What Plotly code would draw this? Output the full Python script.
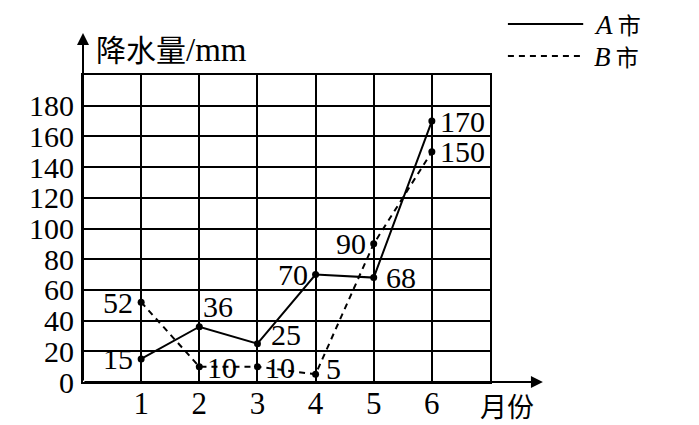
import plotly.graph_objects as go

months = [1, 2, 3, 4, 5, 6]
city_a = [15, 36, 25, 70, 68, 170]
city_b = [52, 10, 10, 5, 90, 150]
y_ticks = [0, 20, 40, 60, 80, 100, 120, 140, 160, 180]

# label placement for each point (anchor side, x shift px, y shift px)
a_pos = [("right", -6, 0), ("left", 2, 20), ("left", 12, 9), ("right", -6, 0), ("left", 10, 0), ("left", 6, 0)]
b_pos = [("right", -6, 0), ("left", 6, -1), ("left", 6, -1), ("left", 8, 6), ("right", -6, 0), ("left", 6, 0)]

SERIF = "Liberation Serif"
CJK = "Noto Sans CJK SC"

fig = go.Figure()
fig.add_trace(go.Scatter(x=months, y=city_a, mode="lines+markers",
                         line=dict(color="black", width=2),
                         marker=dict(color="black", size=7), showlegend=False))
fig.add_trace(go.Scatter(x=months, y=city_b, mode="lines+markers",
                         line=dict(color="black", width=2, dash="6px,5px"),
                         marker=dict(color="black", size=7), showlegend=False))

ann = []
for xs, ys, pos in ((months, city_a, a_pos), (months, city_b, b_pos)):
    for xv, yv, (side, dx, dy) in zip(xs, ys, pos):
        ann.append(dict(x=xv, y=yv, text=str(yv), showarrow=False,
                        xanchor=side, yanchor="middle", xshift=dx, yshift=dy,
                        font=dict(family=SERIF, size=30, color="black")))

# axis arrows
ann.append(dict(x=1.13, y=0, xref="paper", yref="paper", text="", showarrow=True,
                ax=-460, ay=0, arrowhead=2, arrowsize=1.2, arrowwidth=2, arrowcolor="black"))
ann.append(dict(x=0, y=1.137, xref="paper", yref="paper", text="", showarrow=True,
                ax=0, ay=349, arrowhead=2, arrowsize=1.2, arrowwidth=2, arrowcolor="black"))

ann.append(dict(x=0.028, y=1.088, xref="paper", yref="paper", xanchor="left", yanchor="middle",
                text=f'<span style="font-family:{CJK};font-size:30px">降水量</span>/mm',
                showarrow=False, font=dict(family=SERIF, size=33, color="black")))
ann.append(dict(x=1.042, y=-0.075, xref="paper", yref="paper", xanchor="center", yanchor="middle",
                text="月份", showarrow=False,
                font=dict(family=CJK, size=27, color="black")))
ann.append(dict(x=1.251, y=1.166, xref="paper", yref="paper", xanchor="left", yanchor="middle",
                text=f'<i>A</i><span style="font-family:{CJK};font-size:23px"> 市</span>',
                showarrow=False, font=dict(family=SERIF, size=27, color="black")))
ann.append(dict(x=1.251, y=1.062, xref="paper", yref="paper", xanchor="left", yanchor="middle",
                text=f'<i>B</i><span style="font-family:{CJK};font-size:23px"> 市</span>',
                showarrow=False, font=dict(family=SERIF, size=27, color="black")))

shapes = [
    dict(type="line", xref="paper", yref="paper", x0=1.044, x1=1.229, y0=1.166, y1=1.166,
         line=dict(color="black", width=2)),
    dict(type="line", xref="paper", yref="paper", x0=1.044, x1=1.229, y0=1.062, y1=1.062,
         line=dict(color="black", width=2, dash="6px,5px")),
]

fig.update_layout(
    width=691, height=417,
    margin=dict(l=75, r=209, t=67, b=43, autoexpand=False),
    paper_bgcolor="white", plot_bgcolor="white",
    annotations=ann, shapes=shapes,
    xaxis=dict(range=[0, 7], tickvals=months, ticktext=[str(m) for m in months],
               showgrid=True, gridcolor="black", gridwidth=2, zeroline=False,
               showline=True, mirror=True, automargin=False,
               linecolor="black", linewidth=2, ticks="", ticklabelstandoff=-7,
               tickfont=dict(family=SERIF, size=31, color="black")),
    yaxis=dict(range=[0, 200], tickvals=y_ticks, ticktext=[str(v) for v in y_ticks],
               showgrid=True, gridcolor="black", gridwidth=2, zeroline=False,
               showline=True, mirror=True, linecolor="black", linewidth=2, ticks="",
               ticklabelstandoff=1, automargin=False,
               tickfont=dict(family=SERIF, size=30, color="black")),
)

fig.write_html("out.html")
